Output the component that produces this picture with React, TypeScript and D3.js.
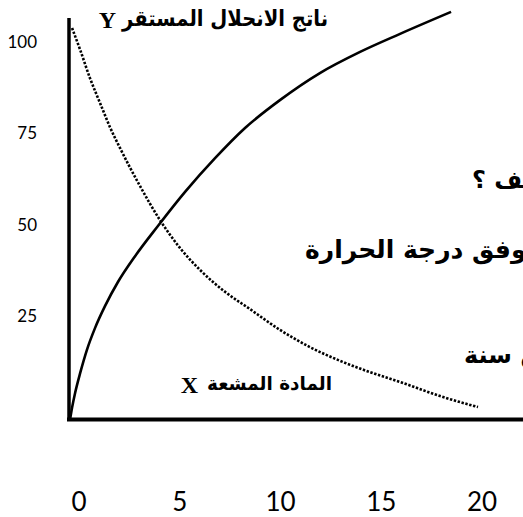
import { useMemo } from "react";
import * as d3 from "d3";

// tick labels
const xTicks = [0, 5, 10, 15, 20];
const yTicks = [25, 50, 75, 100];

// stable decay product Y
const productT = [0, 0.1, 0.25, 0.5, 0.83, 1.23, 1.72, 2.35, 3.19, 4.31, 5.64, 7.11, 8.58, 10.29, 12.25, 14.22, 16.18, 18.68];
const productV = [0, 3.1, 6.9, 12.0, 17.9, 23.5, 29.1, 35.2, 41.8, 49.5, 58.2, 66.8, 74.5, 81.6, 88.5, 93.9, 98.5, 104.1];

// radioactive substance X
const sourceT = [0.1, 0.5, 0.98, 1.47, 1.96, 2.45, 3.43, 4.41, 5.39, 6.37, 7.6, 8.82, 10.29, 11.76, 13.24, 14.71, 16.18, 18.14, 20];
const sourceV = [100, 94.4, 87.2, 80.9, 74.7, 69.4, 59.7, 51.0, 43.9, 38.3, 32.7, 28.3, 23.0, 18.6, 15.1, 12.2, 9.7, 6.1, 3.3];

const W = 523;
const H = 517;

const arabic = "'DejaVu Sans', sans-serif";
const latin = "'Liberation Serif', serif";
const digits = "Lato, 'Open Sans', sans-serif";

export default function App() {
  // plot area: corner of the axes is (0, 0)
  const x = d3.scaleLinear().domain([0, 20]).range([70, 478]);
  const y = d3.scaleLinear().domain([0, 100]).range([420, 28]);
  // the tick labels sit a little off the plot grid
  const xLab = d3.scaleLinear().domain([0, 20]).range([79, 482]);
  const yLab = d3.scaleLinear().domain([25, 100]).range([316, 42]);

  const line = d3
    .line<[number, number]>()
    .x((d) => x(d[0]))
    .y((d) => y(d[1]))
    .curve(d3.curveMonotoneX);

  const productPath = useMemo(
    () => line(productT.map((t, i) => [t, productV[i]])) || "",
    []
  );
  const sourcePath = useMemo(
    () => line(sourceT.map((t, i) => [t, sourceV[i]])) || "",
    []
  );

  return (
    <svg
      width={W}
      height={H}
      style={{ position: "absolute", left: 0, top: 0, background: "#fff" }}
    >
      {/* curves */}
      <path d={sourcePath} fill="none" stroke="#000" strokeWidth={2.6} strokeDasharray="2.4 1.6" />
      <path d={productPath} fill="none" stroke="#000" strokeWidth={2.6} />

      {/* axes */}
      <line x1={x(0) - 1} x2={x(0) - 1} y1={18} y2={y(0) + 1} stroke="#000" strokeWidth={3.5} />
      <line x1={x(0) - 3} x2={W} y1={y(0) - 0.5} y2={y(0) - 0.5} stroke="#000" strokeWidth={4} />

      {/* tick labels */}
      {yTicks.map((v) => (
        <text
          key={v}
          x={37}
          y={yLab(v)}
          dy="0.35em"
          textAnchor="end"
          fontFamily={digits}
          fontSize={17}
        >
          {v}
        </text>
      ))}
      {xTicks.map((v) => (
        <text
          key={v}
          x={xLab(v)}
          y={502}
          dy="0.36em"
          textAnchor="middle"
          fontFamily={digits}
          fontSize={26}
        >
          {v}
        </text>
      ))}

      {/* curve names */}
      <text
        x={328}
        y={26}
        textAnchor="end"
        fontFamily={arabic}
        fontWeight="bold"
        fontSize={22}
        textLength={206}
        lengthAdjust="spacingAndGlyphs"
      >
        ناتج الانحلال المستقر
      </text>
      <text x={116} y={28} textAnchor="end" fontFamily={latin} fontWeight="bold" fontSize={24}>
        Y
      </text>
      <text
        x={332}
        y={390}
        textAnchor="end"
        fontFamily={arabic}
        fontWeight="bold"
        fontSize={19}
        textLength={125}
        lengthAdjust="spacingAndGlyphs"
      >
        المادة المشعة
      </text>
      <text x={198} y={393} textAnchor="end" fontFamily={latin} fontWeight="bold" fontSize={24}>
        X
      </text>

      {/* text running off the right edge */}
      <text x={472} y={188} direction="rtl" textAnchor="end" fontFamily={arabic} fontWeight="bold" fontSize={24}>
        هل يتغير عمر النصف ؟
      </text>
      <text x={305} y={258} direction="rtl" textAnchor="end" fontFamily={arabic} fontWeight="bold" fontSize={25}>
        يتغير عمر النصف وفق درجة الحرارة
      </text>
      <text x={464} y={363} direction="rtl" textAnchor="end" fontFamily={arabic} fontWeight="bold" fontSize={24}>
        عمر النصف يساوي خمس سنة
      </text>
    </svg>
  );
}
